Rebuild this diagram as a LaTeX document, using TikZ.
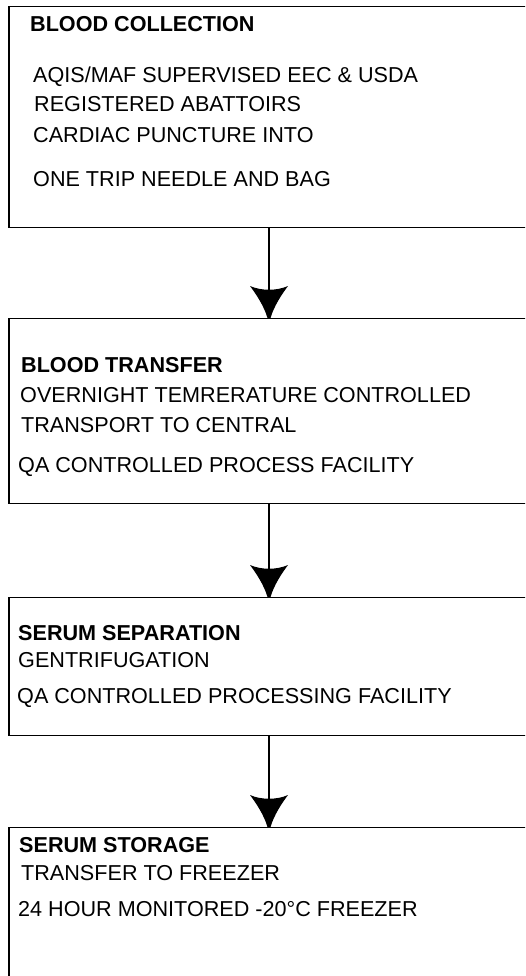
\documentclass[tikz,border=0pt]{standalone}
\usepackage{fontspec}
\setmainfont{Liberation Sans}
\begin{document}
\begin{tikzpicture}[x=1pt,y=-1pt,
  box/.style={draw=black,line width=1.3pt,rectangle,inner sep=0pt,anchor=north,minimum width=520pt},
  txt/.style={anchor=base west,inner sep=0pt,font=\fontsize{21.6}{26}\selectfont},
  hd/.style={txt,font=\fontsize{21.6}{26}\selectfont\bfseries},
  conn/.style={draw=black,line width=1.3pt},
  arrhead/.pic={\fill[black] (-1.5,0) .. controls (-5,-12) and (-13,-24) .. (-19,-32)
      .. controls (-8,-27) and (8,-27) .. (19,-32)
      .. controls (13,-24) and (5,-12) .. (1.5,0) -- cycle;}]
\useasboundingbox (0,0) rectangle (525,976);
\clip (0,0) rectangle (525,976);
\node[box,minimum height=221pt] (b1) at (269,6) {};
\node[box,minimum height=185pt] (b2) at (269,318) {};
\node[box,minimum height=138pt] (b3) at (269,597) {};
\node[box,minimum height=200pt] (b4) at (269,827) {};
\draw[conn] (b1.south) -- (b2.north) pic {arrhead};
\draw[conn] (b2.south) -- (b3.north) pic {arrhead};
\draw[conn] (b3.south) -- (b4.north) pic {arrhead};
% box 1
\node[hd]  (t11) at (30,32)  {BLOOD COLLECTION};
\node[txt] (t12) at (33,83)  {AQIS/MAF SUPERVISED EEC \& USDA};
\node[txt] (t13) at (34,112) {REGISTERED ABATTOIRS};
\node[txt] (t14) at (33,143) {CARDIAC PUNCTURE INTO};
\node[txt] (t15) at (33,187) {ONE TRIP NEEDLE AND BAG};
% box 2
\node[hd]  (t21) at (21,372) {BLOOD TRANSFER};
\node[txt] (t22) at (20,402) {OVERNIGHT TEMRERATURE CONTROLLED};
\node[txt] (t23) at (21,432) {TRANSPORT TO CENTRAL};
\node[txt] (t24) at (18,472) {QA CONTROLLED PROCESS FACILITY};
% box 3
\node[hd]  (t31) at (18,640) {SERUM SEPARATION};
\node[txt] (t32) at (18,667) {GENTRIFUGATION};
\node[txt] (t33) at (17,703) {QA CONTROLLED PROCESSING FACILITY};
% box 4
\node[hd]  (t41) at (19,852) {SERUM STORAGE};
\node[txt] (t42) at (21,880) {TRANSFER TO FREEZER};
\node[txt] (t43) at (18,916) {24 HOUR MONITORED -20°C FREEZER};
\end{tikzpicture}
\end{document}
